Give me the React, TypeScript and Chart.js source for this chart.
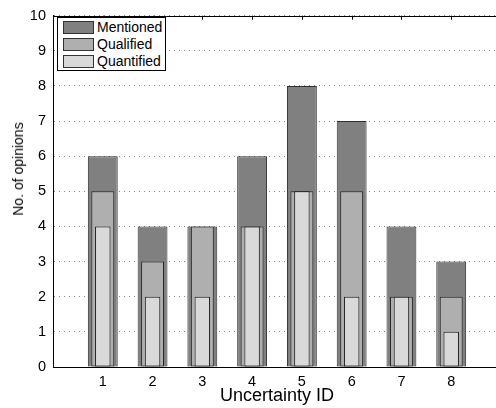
import React, { useEffect, useRef } from "react";
import { Chart, registerables } from "chart.js";

Chart.register(...registerables);

const categories = [1, 2, 3, 4, 5, 6, 7, 8];
const mentioned = [6, 4, 4, 6, 8, 7, 4, 3];
const qualified = [5, 3, 4, 4, 5, 5, 2, 2];
const quantified = [4, 2, 2, 4, 5, 2, 2, 1];
const seriesNames = ["Mentioned", "Qualified", "Quantified"];
const xTitle = "Uncertainty ID";
const yTitle = "No. of opinions";

const FONT = "'Liberation Sans', Arial, Helvetica, sans-serif";
const fills = ["#808080", "#afafaf", "#d9d9d9"];
const borders = ["#303030", "#262626", "#1a1a1a"];
const widths = [0.6, 0.46, 0.31];

const topFrame = {
  id: "topFrame",
  afterDatasetsDraw(chart: any) {
    const { ctx, chartArea } = chart;
    const xs = chart.scales.x;
    ctx.save();
    ctx.strokeStyle = "#000";
    ctx.lineWidth = 1;
    ctx.beginPath();
    ctx.moveTo(chartArea.left, Math.round(chartArea.top) + 0.5);
    ctx.lineTo(chartArea.right, Math.round(chartArea.top) + 0.5);
    categories.forEach((c) => {
      const px = Math.round(xs.getPixelForValue(c)) + 0.5;
      ctx.moveTo(px, chartArea.top);
      ctx.lineTo(px, chartArea.top + 4);
    });
    ctx.stroke();
    ctx.restore();
  },
};

export default function App() {
  const ref = useRef<HTMLCanvasElement | null>(null);

  useEffect(() => {
    if (!ref.current) return;
    Chart.defaults.font.family = FONT;
    const seriesData = [mentioned, qualified, quantified];
    const chart = new Chart(ref.current, {
      type: "bar",
      data: {
        datasets: seriesData.map((vals, i) => ({
          label: seriesNames[i],
          data: vals.map((v, j) => ({ x: categories[j], y: v })),
          backgroundColor: fills[i],
          borderColor: borders[i],
          borderWidth: 1,
          borderSkipped: false,
          grouped: false,
          categoryPercentage: 1,
          barPercentage: widths[i],
          order: 3 - i,
        })),
      },
      plugins: [topFrame],
      options: {
        animation: false,
        responsive: true,
        maintainAspectRatio: false,
        layout: { padding: { top: 14, right: 9, left: 0, bottom: 0 } },
        plugins: {
          legend: { display: false },
          tooltip: { enabled: false },
        },
        scales: {
          x: {
            type: "linear",
            min: 0,
            max: 9,
            offset: false,
            grid: { display: false, drawTicks: false, tickLength: 0 },
            border: { color: "#000", width: 1 },
            ticks: {
              stepSize: 1,
              autoSkip: false,
              maxRotation: 0,
              padding: 6,
              color: "#000",
              font: { size: 14.5 },
              callback: (v: any) => (categories.includes(v) ? String(v) : ""),
            },
            title: {
              display: true,
              text: xTitle,
              color: "#000",
              font: { size: 18 },
              padding: { top: 0, bottom: 1.4 },
            },
            afterFit: (s: any) => {
              s.height = 41;
            },
          },
          y: {
            min: 0,
            max: 10,
            grid: { color: "#8a8a8a", drawTicks: false, tickLength: 0, lineWidth: 1 },
            border: { color: "#000", width: 1, dash: [1, 4] },
            ticks: {
              stepSize: 1,
              padding: 7,
              color: "#000",
              font: { size: 14.5 },
            },
            afterFit: (s: any) => {
              s.width = 53;
            },
          },
        },
      },
    } as any);
    return () => chart.destroy();
  }, []);

  return (
    <div
      style={{
        position: "fixed",
        left: 0,
        top: 0,
        width: 496,
        height: 408,
        overflow: "hidden",
        background: "#fff",
        fontFamily: FONT,
      }}
    >
      <div style={{ position: "absolute", left: 0, top: 0, width: 510, height: 408 }}>
        <canvas ref={ref} />
      </div>
      <div
        style={{
          position: "absolute",
          left: 18,
          top: 169,
          transform: "translate(-50%, -50%) rotate(-90deg)",
          whiteSpace: "nowrap",
          fontSize: 14,
          lineHeight: "16px",
          color: "#000",
        }}
      >
        {yTitle}
      </div>
      <div
        style={{
          position: "absolute",
          left: 57,
          top: 17,
          width: 109,
          height: 54,
          boxSizing: "border-box",
          border: "1px solid #000",
          background: "#fff",
        }}
      >
        {seriesNames.map((name, i) => (
          <React.Fragment key={name}>
            <div
              style={{
                position: "absolute",
                left: 5,
                top: 3 + i * 17,
                width: 31,
                height: 13,
                boxSizing: "border-box",
                border: "1px solid #333",
                background: fills[i],
              }}
            />
            <div
              style={{
                position: "absolute",
                left: 39,
                top: 1 + i * 17,
                fontSize: 14,
                lineHeight: "16px",
                color: "#000",
                whiteSpace: "nowrap",
              }}
            >
              {name}
            </div>
          </React.Fragment>
        ))}
      </div>
    </div>
  );
}
